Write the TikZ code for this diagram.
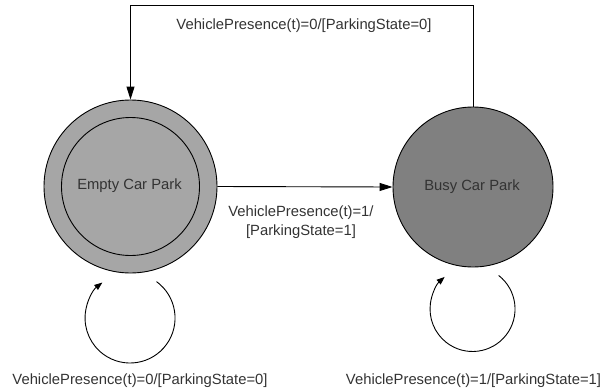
\documentclass[tikz,border=0pt]{standalone}
\usepackage{fontspec}
\setmainfont{Liberation Sans}
\usetikzlibrary{arrows.meta}
\definecolor{emptyfill}{HTML}{A6A6A6}
\definecolor{busyfill}{HTML}{808080}
\definecolor{labeltext}{HTML}{333333}
\tikzset{
  state/.style={circle, draw=black, line width=0.9pt, inner sep=0pt},
  lbl/.style={text=labeltext, font=\fontsize{14.8}{19}\selectfont, inner sep=0pt, align=center},
  trans/.style={draw=black, line width=0.9pt, -{Triangle[length=13pt,width=8pt]}},
  selfloop/.style={draw=black, line width=0.9pt, -{Triangle[length=8pt,width=6pt]}}
}
\begin{document}
\begin{tikzpicture}[x=1pt,y=-1pt]
\useasboundingbox (0,0) rectangle (612,391);

% states
\node[state, fill=emptyfill, minimum size=173pt] (empty) at (130.5,186.5) {};
\node[state, fill=emptyfill, minimum size=138pt] (emptyin) at (130.5,186.5) {};
\node[lbl] (emptytxt) at (129.5,185.5) {Empty Car Park};
\node[state, fill=busyfill, minimum size=160pt] (busy) at (473,187) {};
\node[lbl] (busytxt) at (472,186.5) {Busy Car Park};

% transitions between the states
\coordinate (topright) at (busy.north |- 0,5);
\coordinate (topleft) at (empty.north |- 0,5);
\draw[trans] (busy.north) -- (topright) -- (topleft) -- (empty.north);
\draw[trans] (empty.east) -- (busy.west);

% self loops
\draw[selfloop] (empty) ++(26,95.1) arc[start angle=-54, end angle=232, radius=45];
\draw[selfloop] (busy) ++(25.7,88.5) arc[start angle=-52, end angle=229, radius=42.5];

% transition labels
\node[lbl] (ltop) at (304,26) {VehiclePresence(t)=0/[ParkingState=0]};
\node[lbl] (lmid) at (301,222.5) {VehiclePresence(t)=1/\\{}[ParkingState=1]};
\node[lbl] (lempty) at (140,381) {VehiclePresence(t)=0/[ParkingState=0]};
\node[lbl] (lbusy) at (473.5,381) {VehiclePresence(t)=1/[ParkingState=1]};
\end{tikzpicture}
\end{document}
